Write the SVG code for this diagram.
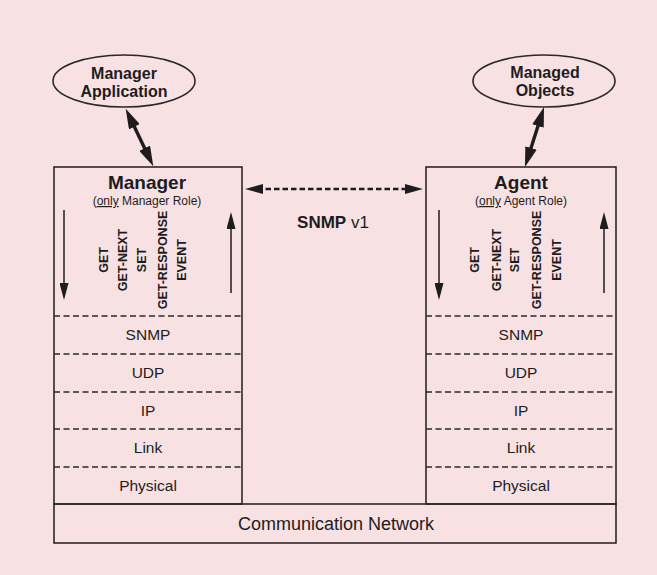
<svg xmlns="http://www.w3.org/2000/svg" width="657" height="575" viewBox="0 0 657 575">
<style>
text{font-family:"Liberation Sans",Arial,sans-serif;fill:#1e1c1e}
.b{font-weight:bold}
.box{fill:none;stroke:#2a282a;stroke-width:1.6}
.dash{stroke:#2a282a;stroke-width:1.4;stroke-dasharray:6 3.5}
.lay{font-size:15.5px;text-anchor:middle}
.rot{font-size:12.5px;font-weight:bold;text-anchor:middle}
.thick{stroke:#1e1c1e;stroke-width:3.4;fill:none}
.thin{stroke:#1e1c1e;stroke-width:1.5;fill:none}
</style>
<defs>
<marker id="mThick" markerUnits="userSpaceOnUse" markerWidth="21" markerHeight="12" refX="8" refY="6" orient="auto-start-reverse"><path d="M0,0 L20,6 L0,12 z" fill="#1e1c1e"/></marker>
<marker id="mDash" markerUnits="userSpaceOnUse" markerWidth="19" markerHeight="10" refX="6" refY="5" orient="auto-start-reverse"><path d="M0,0 L18,5 L0,10 z" fill="#1e1c1e"/></marker>
<marker id="mThin" markerUnits="userSpaceOnUse" markerWidth="18" markerHeight="9" refX="8" refY="4.5" orient="auto"><path d="M0,0 L17,4.5 L0,9 z" fill="#1e1c1e"/></marker>
</defs>
<rect width="657" height="575" fill="#f7e1e2"/>
<g id="manager-app">
<ellipse cx="124" cy="81" rx="71" ry="26" class="box"/>
<text x="124" y="79" class="b" font-size="16" text-anchor="middle">Manager</text>
<text x="124" y="97" class="b" font-size="16" text-anchor="middle">Application</text>
</g>
<g id="managed-objects">
<ellipse cx="544" cy="81" rx="71" ry="26" class="box"/>
<text x="545" y="78" class="b" font-size="16" text-anchor="middle">Managed</text>
<text x="545" y="96" class="b" font-size="16" text-anchor="middle">Objects</text>
</g>
<g id="manager">
<rect x="54" y="167" width="188" height="337" class="box"/>
<text x="147" y="189" class="b" font-size="19" text-anchor="middle">Manager</text>
<text x="147" y="205" font-size="12" text-anchor="middle">(<tspan text-decoration="underline">only</tspan> Manager Role)</text>
<text class="rot" transform="translate(108,260) rotate(-90)">GET</text>
<text class="rot" transform="translate(127,260) rotate(-90)">GET-NEXT</text>
<text class="rot" transform="translate(146,260) rotate(-90)">SET</text>
<text class="rot" transform="translate(167,260) rotate(-90)">GET-RESPONSE</text>
<text class="rot" transform="translate(186,260) rotate(-90)">EVENT</text>
<line x1="54" y1="316" x2="242" y2="316" class="dash"/>
<line x1="54" y1="354" x2="242" y2="354" class="dash"/>
<line x1="54" y1="392" x2="242" y2="392" class="dash"/>
<line x1="54" y1="429" x2="242" y2="429" class="dash"/>
<line x1="54" y1="467" x2="242" y2="467" class="dash"/>
<text x="148" y="340" class="lay">SNMP</text>
<text x="148" y="378" class="lay">UDP</text>
<text x="148" y="415.5" class="lay">IP</text>
<text x="148" y="453" class="lay">Link</text>
<text x="148" y="490.5" class="lay">Physical</text>
</g>
<g id="agent">
<rect x="426" y="167" width="190" height="337" class="box"/>
<text x="521" y="189" class="b" font-size="19" text-anchor="middle">Agent</text>
<text x="521" y="205" font-size="12" text-anchor="middle">(<tspan text-decoration="underline">only</tspan> Agent Role)</text>
<text class="rot" transform="translate(479,260) rotate(-90)">GET</text>
<text class="rot" transform="translate(501,260) rotate(-90)">GET-NEXT</text>
<text class="rot" transform="translate(519,260) rotate(-90)">SET</text>
<text class="rot" transform="translate(541,260) rotate(-90)">GET-RESPONSE</text>
<text class="rot" transform="translate(561,260) rotate(-90)">EVENT</text>
<line x1="426" y1="316" x2="616" y2="316" class="dash"/>
<line x1="426" y1="354" x2="616" y2="354" class="dash"/>
<line x1="426" y1="392" x2="616" y2="392" class="dash"/>
<line x1="426" y1="429" x2="616" y2="429" class="dash"/>
<line x1="426" y1="467" x2="616" y2="467" class="dash"/>
<text x="521" y="340" class="lay">SNMP</text>
<text x="521" y="378" class="lay">UDP</text>
<text x="521" y="415.5" class="lay">IP</text>
<text x="521" y="453" class="lay">Link</text>
<text x="521" y="490.5" class="lay">Physical</text>
</g>
<g id="network">
<rect x="54" y="504" width="562" height="39" class="box"/>
<text x="336" y="530" font-size="18" text-anchor="middle">Communication Network</text>
</g>
<g id="snmp-label">
<text x="333" y="228" font-size="17" text-anchor="middle"><tspan font-weight="bold">SNMP</tspan> v1</text>
</g>
<g id="connectors">
<line x1="130.9" y1="119.6" x2="148.1" y2="155.4" class="thick" marker-start="url(#mThick)" marker-end="url(#mThick)"/>
<line x1="540.4" y1="118.4" x2="528.6" y2="155.6" class="thick" marker-start="url(#mThick)" marker-end="url(#mThick)"/>
<line x1="257" y1="189" x2="411" y2="189" stroke="#1e1c1e" stroke-width="2.6" stroke-dasharray="5.5 3" marker-start="url(#mDash)" marker-end="url(#mDash)"/>
<line x1="64" y1="210" x2="64" y2="291" class="thin" marker-end="url(#mThin)"/>
<line x1="231" y1="293" x2="231" y2="221" class="thin" marker-end="url(#mThin)"/>
<line x1="439" y1="210" x2="439" y2="291" class="thin" marker-end="url(#mThin)"/>
<line x1="604" y1="293" x2="604" y2="221" class="thin" marker-end="url(#mThin)"/>
</g>
</svg>
